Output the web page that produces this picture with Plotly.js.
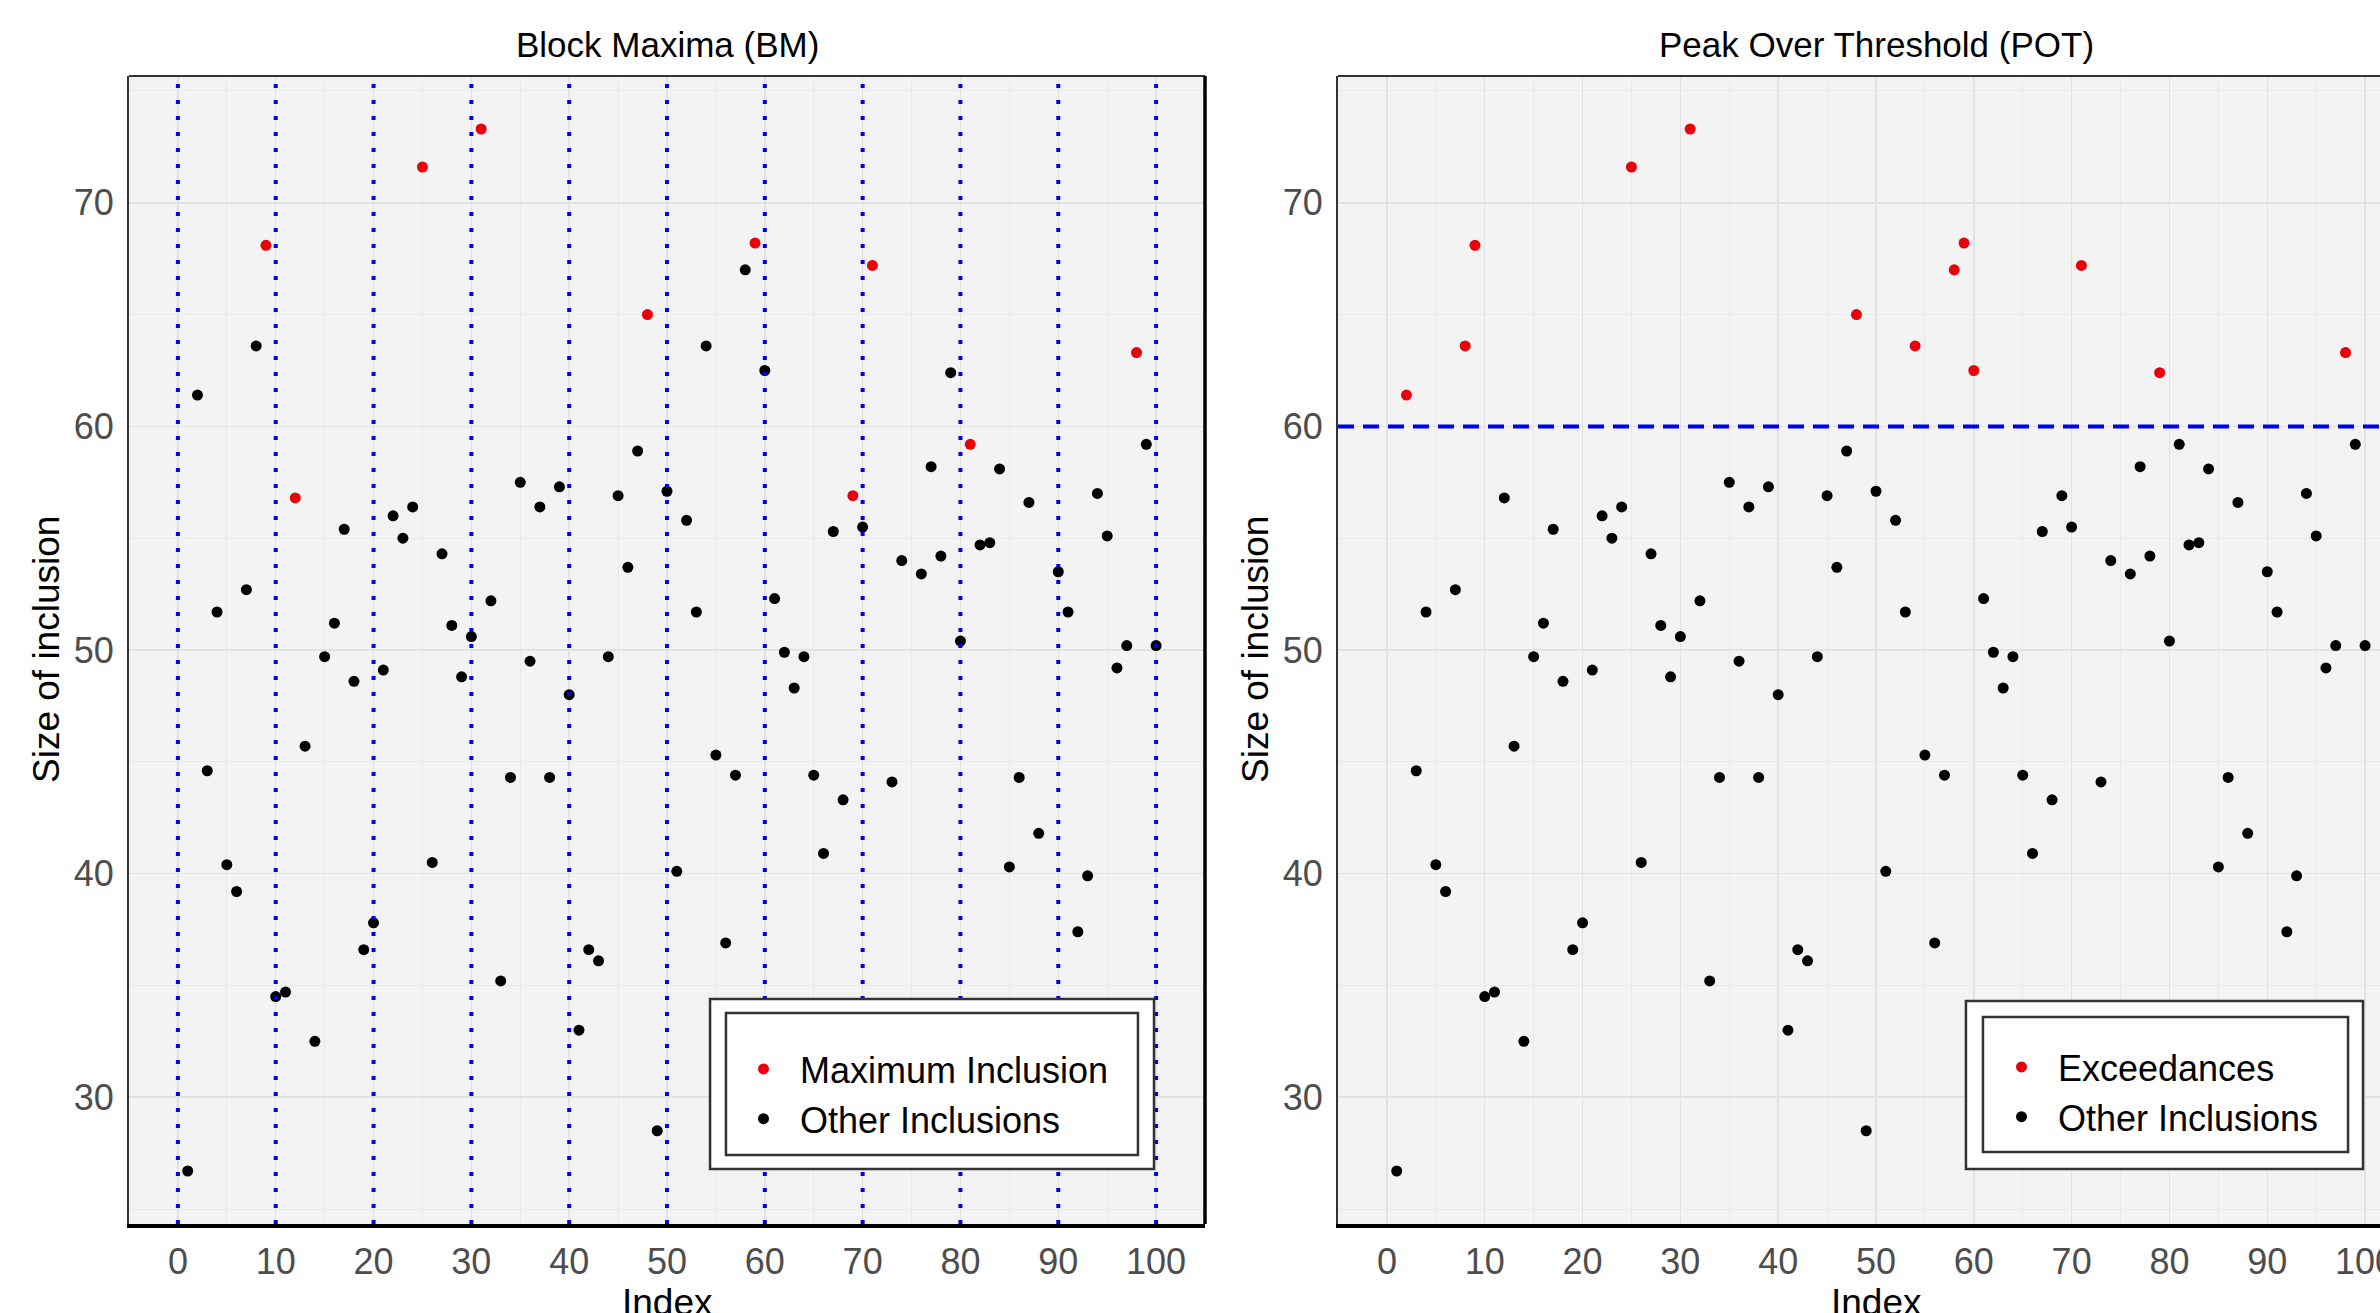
<!DOCTYPE html>
<html><head><meta charset="utf-8">
<script src="https://cdn.plot.ly/plotly-3.0.1.min.js"></script>
<style>
html,body{margin:0;padding:0;overflow:hidden;background:#fff;width:2380px;height:1313px}
#chart{position:absolute;left:0;top:0;width:2440px;height:1345px}
</style>
</head><body><div id="chart"></div>
<script>
// ---- data ----
const index = [1,2,3,4,5,6,7,8,9,10,11,12,13,14,15,16,17,18,19,20,
  21,22,23,24,25,26,27,28,29,30,31,32,33,34,35,36,37,38,39,40,
  41,42,43,44,45,46,47,48,49,50,51,52,53,54,55,56,57,58,59,60,
  61,62,63,64,65,66,67,68,69,70,71,72,73,74,75,76,77,78,79,80,
  81,82,83,84,85,86,87,88,89,90,91,92,93,94,95,96,97,98,99,100];
// null = hidden under the legend box in the reference
const inclusionSize = [26.7,61.4,44.6,51.7,40.4,39.2,52.7,63.6,68.1,34.5,
  34.7,56.8,45.7,32.5,49.7,51.2,55.4,48.6,36.6,37.8,
  49.1,56.0,55.0,56.4,71.6,40.5,54.3,51.1,48.8,50.6,
  73.3,52.2,35.2,44.3,57.5,49.5,56.4,44.3,57.3,48.0,
  33.0,36.6,36.1,49.7,56.9,53.7,58.9,65.0,28.5,57.1,
  40.1,55.8,51.7,63.6,45.3,36.9,44.4,67.0,68.2,62.5,
  52.3,49.9,48.3,49.7,44.4,40.9,55.3,43.3,56.9,55.5,
  67.2,null,44.1,54.0,null,53.4,58.2,54.2,62.4,50.4,
  59.2,54.7,54.8,58.1,40.3,44.3,56.6,41.8,null,53.5,
  51.7,37.4,39.9,57.0,55.1,49.2,50.2,63.3,59.2,50.2];
const blockBreaks = [0,10,20,30,40,50,60,70,80,90,100];
const threshold = 60;
const xTicks = [0,10,20,30,40,50,60,70,80,90,100];
const yTicks = [30,40,50,60,70];

// ---- classification derived from the data ----
const isMax = index.map(() => false);
for (let b = 0; b < blockBreaks.length - 1; b++) {
  let best = -1;
  index.forEach((ix, k) => {
    if (ix > blockBreaks[b] && ix <= blockBreaks[b+1] && inclusionSize[k] !== null) {
      if (best < 0 || inclusionSize[k] > inclusionSize[best]) best = k;
    }
  });
  if (best >= 0) isMax[best] = true;
}
const isExc = inclusionSize.map(v => v !== null && v > threshold);
function pick(mask, want, arr) { return arr.map((v, k) => (mask[k] === want ? v : null)); }

const RED = '#e8000b', BLACK = '#000000';
const W = 2440, H = 1345;
const px = v => v / W, py = v => 1 - v / H;
const mk = c => ({color: c, size: 11, line: {width: 0}});
const FONT = 'Liberation Sans, Arial, sans-serif';

const traces = [
  {x: index, y: pick(isMax, true, inclusionSize), mode: 'markers', type: 'scatter', name: 'Maximum Inclusion',
   marker: mk(RED), xaxis: 'x', yaxis: 'y', legend: 'legend', legendrank: 1, hoverinfo: 'x+y'},
  {x: index, y: pick(isMax, false, inclusionSize), mode: 'markers', type: 'scatter', name: 'Other Inclusions',
   marker: mk(BLACK), xaxis: 'x', yaxis: 'y', legend: 'legend', legendrank: 2, hoverinfo: 'x+y'},
  {x: index, y: pick(isExc, true, inclusionSize), mode: 'markers', type: 'scatter', name: 'Exceedances',
   marker: mk(RED), xaxis: 'x2', yaxis: 'y2', legend: 'legend2', legendrank: 1, hoverinfo: 'x+y'},
  {x: index, y: pick(isExc, false, inclusionSize), mode: 'markers', type: 'scatter', name: 'Other Inclusions',
   marker: mk(BLACK), xaxis: 'x2', yaxis: 'y2', legend: 'legend2', legendrank: 2, hoverinfo: 'x+y'}
];

function xAxis(dom, anchor) {
  return {domain: dom, anchor: anchor, range: [-5, 105], tickvals: xTicks, ticktext: xTicks.map(String),
    showgrid: true, gridcolor: '#e2e2e2', gridwidth: 1.5,
    minor: {dtick: 5, tick0: 0, showgrid: true, gridcolor: '#e9e9e9', gridwidth: 1},
    showline: true, linecolor: '#000', linewidth: 4, ticks: '', zeroline: false,
    tickfont: {family: FONT, size: 36, color: '#4d4d4d'}, ticklabelstandoff: 3};
}
function yAxis(anchor) {
  return {domain: [py(1224), py(76)], anchor: anchor, range: [24.33, 75.67], tickvals: yTicks, ticktext: yTicks.map(String),
    showgrid: true, gridcolor: '#e2e2e2', gridwidth: 1.5,
    minor: {dtick: 5, tick0: 0, showgrid: true, gridcolor: '#e9e9e9', gridwidth: 1},
    showline: true, linecolor: '#333', linewidth: 2, ticks: '', zeroline: false,
    tickfont: {family: FONT, size: 36, color: '#4d4d4d'}, ticklabelstandoff: 6};
}

const shapes = [];
blockBreaks.forEach(b => shapes.push({type: 'line', xref: 'x', yref: 'y domain', x0: b, x1: b, y0: 0, y1: 1,
  line: {color: '#0000ee', width: 4, dash: '4px,12px'}, layer: 'above'}));
shapes.push({type: 'line', xref: 'x2 domain', yref: 'y2', x0: 0, x1: 1, y0: threshold, y1: threshold,
  line: {color: '#0000ee', width: 4, dash: '16px,9px'}, layer: 'above'});
// panel borders (top / right)
['x', 'x2'].forEach((xa, i) => {
  const ya = i === 0 ? 'y' : 'y2';
  shapes.push({type: 'line', xref: xa + ' domain', yref: ya + ' domain', x0: 0, x1: 1, y0: 1, y1: 1,
    line: {color: '#333', width: 2}, layer: 'above'});
  shapes.push({type: 'line', xref: xa + ' domain', yref: ya + ' domain', x0: 1, x1: 1, y0: 0, y1: 1,
    line: {color: '#000', width: 3.5}, layer: 'above'});
});
// legend frames (outer white box + inner box)
function frame(xa, ya, o, inn) {
  shapes.push({type: 'rect', xref: xa + ' domain', yref: ya + ' domain', x0: o[0], x1: o[1], y0: o[2], y1: o[3],
    fillcolor: '#fff', line: {color: '#333', width: 2.5}, layer: 'above'});
  shapes.push({type: 'rect', xref: xa + ' domain', yref: ya + ' domain', x0: inn[0], x1: inn[1], y0: inn[2], y1: inn[3],
    fillcolor: 'rgba(0,0,0,0)', line: {color: '#333', width: 2.5}, layer: 'above'});
}
frame('x', 'y', [0.540, 0.9526, 0.0479, 0.196], [0.5548, 0.9377, 0.0601, 0.1838]);
frame('x2', 'y2', [0.5836, 0.9526, 0.0479, 0.1943], [0.5994, 0.9387, 0.0627, 0.1803]);

const annotations = [
  {text: 'Block Maxima (BM)', xref: 'x domain', x: 0.5, yref: 'paper', y: py(45), yanchor: 'middle', showarrow: false,
   font: {family: FONT, size: 35, color: '#000'}},
  {text: 'Peak Over Threshold (POT)', xref: 'x2 domain', x: 0.5, yref: 'paper', y: py(45), yanchor: 'middle', showarrow: false,
   font: {family: FONT, size: 35, color: '#000'}},
  {text: 'Index', xref: 'x domain', x: 0.5, yref: 'paper', y: py(1302), yanchor: 'middle', showarrow: false,
   font: {family: FONT, size: 37, color: '#000'}},
  {text: 'Index', xref: 'x2 domain', x: 0.5, yref: 'paper', y: py(1302), yanchor: 'middle', showarrow: false,
   font: {family: FONT, size: 37, color: '#000'}},
  {text: 'Size of inclusion', xref: 'paper', x: px(46), xanchor: 'center', yref: 'y domain', y: 0.5, yanchor: 'middle',
   textangle: -90, showarrow: false, font: {family: FONT, size: 37, color: '#000'}},
  {text: 'Size of inclusion', xref: 'paper', x: px(1255), xanchor: 'center', yref: 'y2 domain', y: 0.5, yanchor: 'middle',
   textangle: -90, showarrow: false, font: {family: FONT, size: 37, color: '#000'}}
];

const legendBase = {bgcolor: 'rgba(0,0,0,0)', borderwidth: 0, xanchor: 'left', yanchor: 'top',
  font: {family: FONT, size: 36, color: '#000'}, itemwidth: 63, tracegroupgap: 0, traceorder: 'normal'};

const layout = {
  width: W, height: H, margin: {l: 0, r: 0, t: 0, b: 0},
  paper_bgcolor: '#fff', plot_bgcolor: '#f3f3f3', showlegend: true,
  xaxis: xAxis([px(129), px(1205)], 'y'),
  yaxis: yAxis('x'),
  xaxis2: xAxis([px(1338), px(2414)], 'y2'),
  yaxis2: yAxis('x2'),
  legend: Object.assign({}, legendBase, {x: px(727), y: py(1039)}),
  legend2: Object.assign({}, legendBase, {x: px(1985), y: py(1037)}),
  shapes: shapes, annotations: annotations
};

Plotly.newPlot('chart', traces, layout, {displayModeBar: false, staticPlot: true});
</script></body></html>
